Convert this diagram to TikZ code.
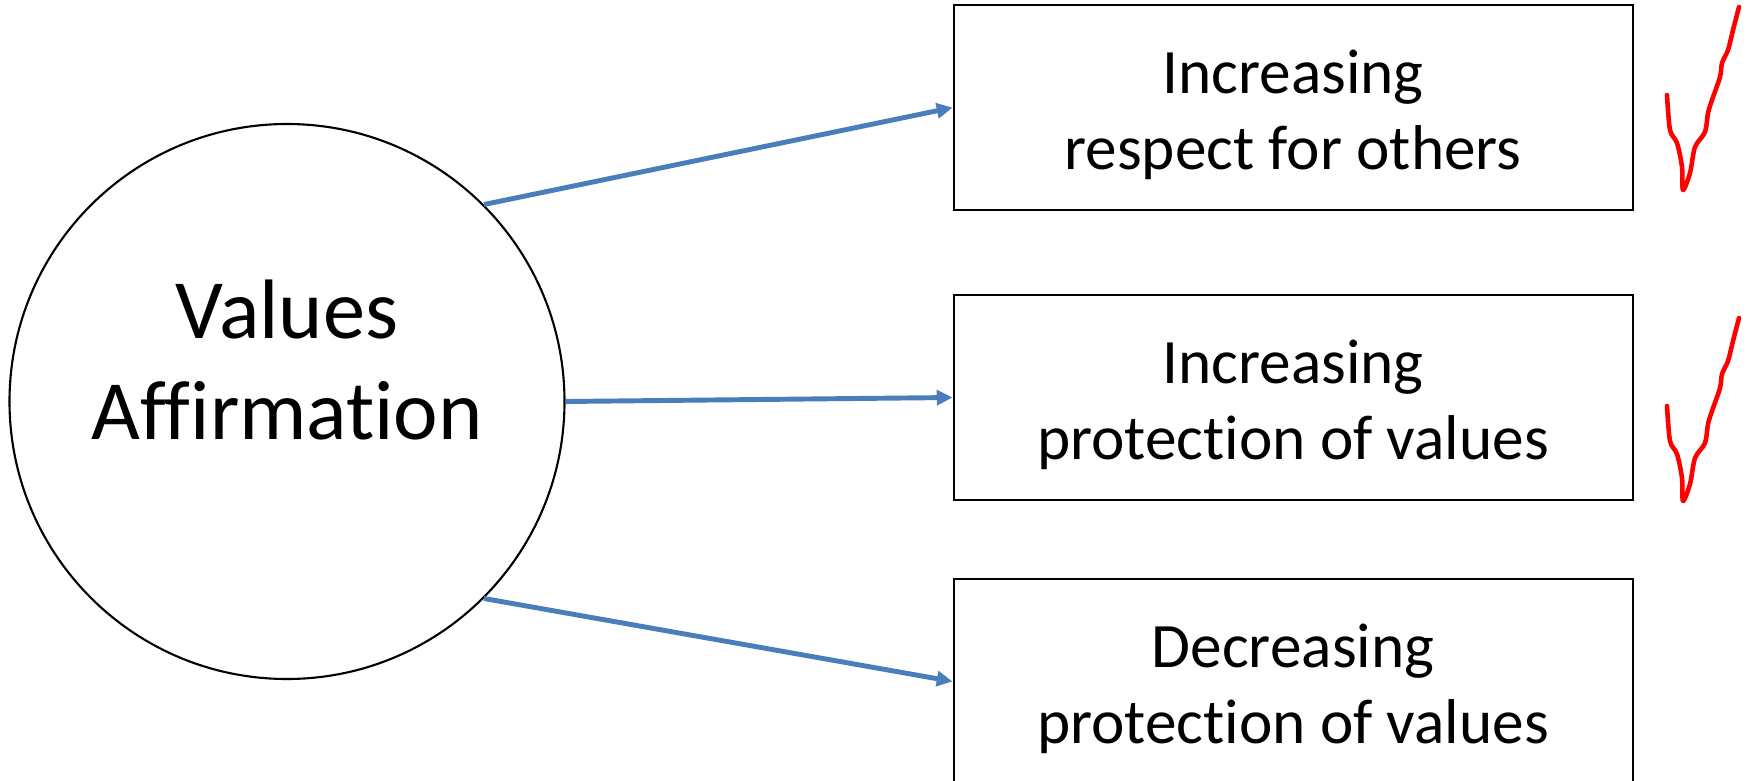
\documentclass[tikz,border=0pt]{standalone}
\usepackage{fontspec}
\setmainfont{Carlito}[Ligatures=CommonOff]
\usetikzlibrary{arrows.meta,positioning}
\definecolor{linkblue}{HTML}{4A7EBB}
\definecolor{tickred}{HTML}{FF0000}

\begin{document}
\begin{tikzpicture}[node distance=1.6cm, >={Triangle[length=9pt,width=8.5pt]},
  box/.style={draw, line width=1.1pt, align=center, minimum width=13.58cm, minimum height=4.1cm,
    text height=76pt, font=\fontsize{36}{43.2}\selectfont},
  link/.style={->, draw=linkblue, line width=2.8pt},
  checkmark/.style={draw=tickred, line width=2.6pt, line cap=round, line join=round}]
  \useasboundingbox (0,0) rectangle (34.96,-15.62);
  \node[circle, draw, line width=1.2pt, minimum size=11.1cm, inner sep=0pt, align=center,
    text depth=48pt, font=\fontsize{48}{57.6}\selectfont]
    (va) at (5.74,-8.03) {Values\\Affirmation};
  \node[box, right=7.74cm of va, yshift=0.08cm] (protinc) {Increasing\\protection of values};
  \node[box, above=1.66cm of protinc] (respect) {Increasing\\respect for others};
  \node[box, below=1.54cm of protinc] (protdec) {Decreasing\\protection of values};
  \draw[link] (va.45) -- (respect.west);
  \draw[link] (va.east) -- (protinc.west);
  \draw[link] (va.-45) -- (protdec.west);
  % hand-drawn ticks
  \foreach \dy in {0,-6.22}
    \draw[checkmark, yshift=\dy cm] plot[smooth, tension=0.5] coordinates {
      (33.34,-1.90) (33.40,-2.60) (33.54,-2.86) (33.64,-3.34) (33.66,-3.80)
      (33.80,-3.46) (33.90,-2.94) (34.10,-2.64) (34.16,-2.26) (34.24,-2.00)
      (34.40,-1.54) (34.44,-1.26) (34.56,-1.00) (34.66,-0.60) (34.78,-0.14)};
\end{tikzpicture}
\end{document}
